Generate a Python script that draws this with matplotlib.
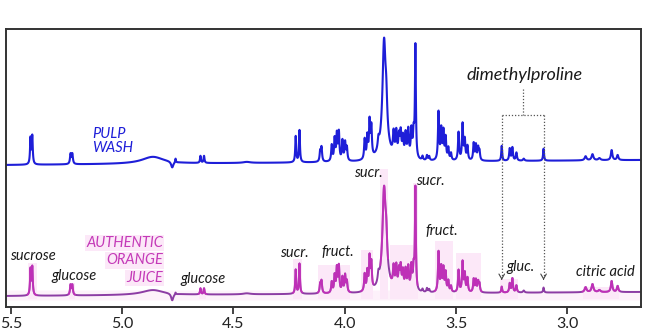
"""
1H NMR overlay: pulp wash vs authentic orange juice (dimethylproline marker)
"""

import matplotlib.pyplot as plt
import numpy as np

plt.rcParams["font.family"] = ["Lato", "DejaVu Sans"]
plt.rcParams["path.simplify"] = False  # keep the sharp peak tops

# peak table: shift (ppm), height in pulp wash,
# height in authentic juice, half width (ppm)
PEAK_PPM = [5.412, 5.404, 5.232, 5.224, 4.862, 4.775, 4.760, 4.648, 4.632, 4.44,
            4.220, 4.203, 4.110, 4.104, 4.058, 4.045, 4.035, 4.026, 4.010, 3.998,
            3.990, 3.910, 3.898, 3.888, 3.880, 3.848, 3.823, 3.813, 3.780, 3.768,
            3.756, 3.748, 3.738, 3.726, 3.714, 3.700, 3.690, 3.682, 3.650, 3.630,
            3.620, 3.578, 3.566, 3.556, 3.546, 3.534, 3.522, 3.488, 3.470, 3.460,
            3.448, 3.420, 3.410, 3.400, 3.394, 3.294, 3.258, 3.246, 3.228, 3.195,
            3.106, 2.917, 2.886, 2.855, 2.800, 2.773, 3.820]
PULP_H = [26, 28, 10, 10, 7, -6, 4, 7, 7, 1,
          26, 32, 10, 14, 16, 22, 26, 28, 20, 18,
          13, 20, 22, 36, 30, 10, 96, 28, 22, 24,
          20, 24, 20, 24, 28, 28, 24, 112, 4, 5,
          4, 48, 30, 28, 22, 12, 7, 28, 36, 20,
          14, 17, 15, 12, 9, 15, 12, 13, 8, 2,
          12, 4, 6, 2, 10, 5, 22]
JUICE_H = [26, 28, 10, 10, 5, -7, 2, 6, 6, 1,
           24, 30, 9, 12, 11, 17, 24, 26, 15, 17,
           11, 17, 19, 32, 26, 9, 82, 26, 20, 22,
           18, 22, 18, 20, 23, 24, 21, 102, 3, 4,
           3, 40, 24, 23, 19, 11, 6, 22, 30, 18,
           14, 13, 12, 10, 8, 6, 9, 14, 7, 2,
           5, 5, 8, 2, 11, 6, 20]
HALF_W = [0.0025, 0.0025, 0.003, 0.003, 0.06, 0.006, 0.002, 0.0025, 0.0025, 0.02,
          0.0025, 0.0025, 0.003, 0.003, 0.003, 0.003, 0.003, 0.003, 0.003, 0.003,
          0.003, 0.003, 0.003, 0.003, 0.003, 0.004, 0.008, 0.005, 0.0035, 0.0035,
          0.0035, 0.0035, 0.0035, 0.0035, 0.0035, 0.0035, 0.0035, 0.0025, 0.003, 0.003,
          0.003, 0.003, 0.003, 0.003, 0.003, 0.003, 0.003, 0.003, 0.003, 0.003,
          0.003, 0.003, 0.003, 0.003, 0.003, 0.0025, 0.003, 0.003, 0.003, 0.004,
          0.0025, 0.005, 0.005, 0.006, 0.004, 0.004, 0.02]

# baselines (left end, right end) in plot units
PULP_BASE = (142, 147)
JUICE_BASE = (11, 15)

# highlighted regions of the juice trace: (ppm high, ppm low, top)
MARKED = [(5.425, 5.385, 44), (5.24, 5.212, 24), (4.655, 4.622, 18),
          (4.232, 4.192, 48), (4.12, 3.975, 42), (3.925, 3.872, 57),
          (3.84, 3.805, 138), (3.795, 3.695, 62), (3.693, 3.672, 124),
          (3.595, 3.515, 66), (3.50, 3.385, 54), (3.30, 3.222, 28),
          (2.93, 2.765, 20)]

LABELS = [("sucrose", 5.403, 51), ("glucose", 5.217, 31), ("glucose", 4.635, 28),
          ("sucr.", 4.224, 54), ("fruct.", 4.033, 55), ("sucr.", 3.892, 134),
          ("sucr.", 3.613, 126), ("fruct.", 3.564, 76), ("gluc.", 3.209, 40),
          ("citric acid", 2.829, 35)]

JUICE_TEXT = [("AUTHENTIC", 64), ("ORANGE", 46.5), ("JUICE", 29)]

XLIM = (5.522, 2.668)
BLUE = "#1e1ed8"
PURPLE = "#8c3ca4"
MAGENTA = "#d42cc0"
JUICE_INK = "#c43ab8"
PINK = "#fce8f8"


def spectrum(ppm, heights):
    y = np.zeros_like(ppm)
    for x0, h, w in zip(PEAK_PPM, heights, HALF_W):
        y += h * w**2 / ((ppm - x0) ** 2 + w**2)
    return y


ppm = np.linspace(XLIM[0], XLIM[1], 8000)
pulp = spectrum(ppm, PULP_H) + np.linspace(*PULP_BASE, ppm.size)
juice = spectrum(ppm, JUICE_H) + np.linspace(*JUICE_BASE, ppm.size)

fig = plt.figure(figsize=(6.48, 3.35), dpi=100)
ax = fig.add_axes([0.0093, 0.0836, 0.9799, 0.8298])

# pale band along juice baseline + highlighter patches
ax.fill_between(ppm, 7, 17, color=PINK, lw=0, alpha=0.6, zorder=0)
for hi, lo, top in MARKED:
    ax.fill_between([hi, lo], 8, top, color=PINK, lw=0, zorder=0)

ax.plot(ppm, pulp, color=BLUE, lw=1.5, zorder=2)
ax.plot(ppm, juice, color=PURPLE, lw=1.4, zorder=2)
for hi, lo, top in MARKED:
    m = (ppm <= hi) & (ppm >= lo)
    ax.plot(ppm[m], juice[m], color=MAGENTA, lw=1.4, alpha=0.7, zorder=3)

ax.text(5.136, 166, "PULP\nWASH", color=BLUE, fontsize=10.5, style="italic",
        ha="left", va="center", linespacing=1.0)
for txt, y in JUICE_TEXT:
    ax.text(4.817, y, txt, color=JUICE_INK, fontsize=10.5, style="italic",
            ha="right", va="center",
            bbox=dict(facecolor=PINK, edgecolor="none", pad=1.0))
for txt, x, y in LABELS:
    ax.text(x, y, txt, fontsize=10.5, style="italic", color="#1a1a1a",
            ha="center", va="center", zorder=4)

# dimethylproline bracket
ax.text(3.19, 232, "dimethylproline", fontsize=13, style="italic",
        color="#1a1a1a", ha="center", va="center")
dot = dict(color="#555555", lw=0.9, ls=(0, (1, 1.5)))
ax.plot([3.200, 3.200], [218, 192], **dot)
ax.plot([3.294, 3.106], [192, 192], **dot)
for x in (3.294, 3.106):
    ax.plot([x, x], [192, 31], **dot)
    ax.annotate("", xy=(x, 27), xytext=(x, 31),
                arrowprops=dict(arrowstyle="->,head_length=0.35,head_width=0.2",
                                color="#444444", lw=0.8))

ax.set_xlim(*XLIM)
ax.set_ylim(0, 278)
ax.set_yticks([])
ax.set_xticks([5.5, 5.0, 4.5, 4.0, 3.5, 3.0])
ax.set_xticklabels(["5.5", "5.0", "4.5", "4.0", "3.5", "3.0"])
ax.tick_params(axis="x", direction="out", length=5, width=1.2,
               labelsize=11.5, colors="#222222", pad=2)
for s in ax.spines.values():
    s.set_color("#333333")
    s.set_linewidth(1.4)

fig.savefig("out.png", dpi=100)
